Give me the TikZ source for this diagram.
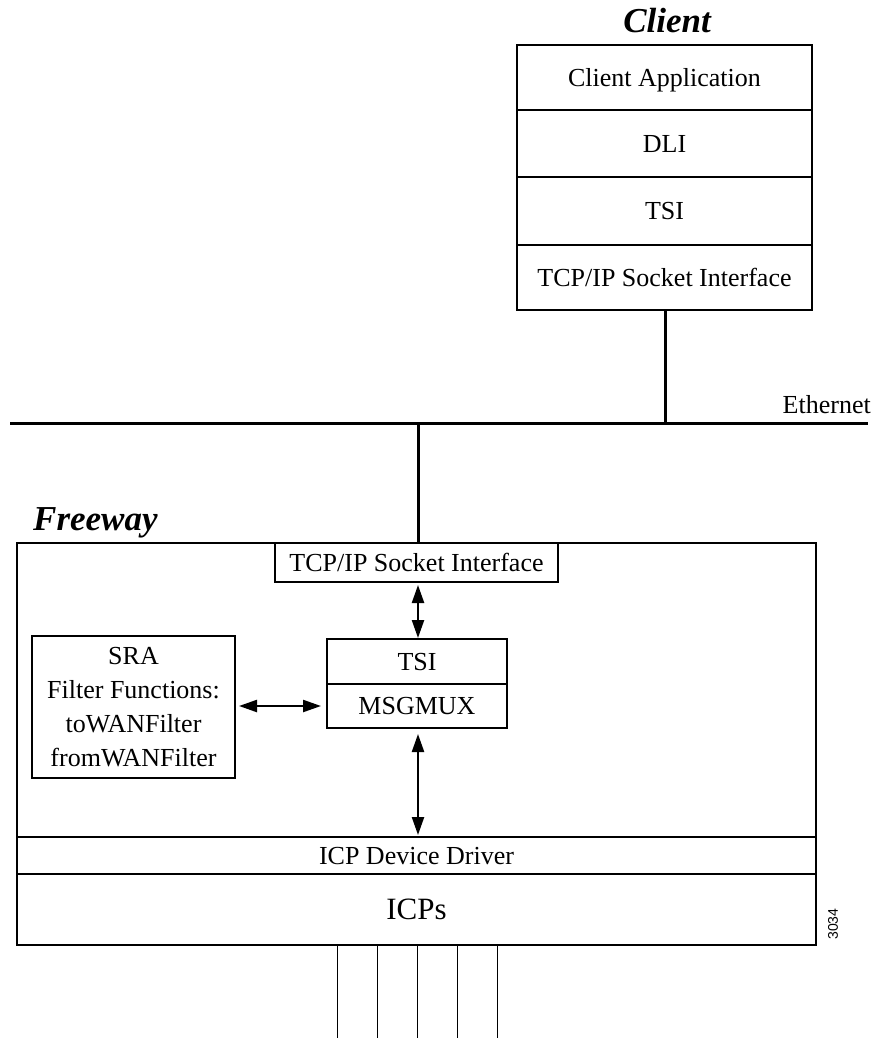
\documentclass[tikz,border=0pt]{standalone}
\usepackage{fontspec}
\setmainfont{Liberation Serif}
\newfontfamily\numfont{Liberation Sans}
\usetikzlibrary{arrows.meta}
\begin{document}
\begin{tikzpicture}[x=1pt,y=-1pt,
  box/.style={draw, line width=1.4pt, inner sep=0pt, outer sep=0pt, font=\fontsize{26}{30}\selectfont},
  row/.style={box, text height=17.2pt, text depth=0pt},
  wire/.style={line width=3pt},
  link/.style={line width=2.3pt, {Triangle[length=18pt,width=12pt]}-{Triangle[length=18pt,width=12pt]}},
  title/.style={font=\fontsize{35}{40}\selectfont\bfseries\itshape, inner sep=0pt}
]
\useasboundingbox (0,0) rectangle (876,1038);

% Client stack
\node[title, anchor=base] (ctitle) at (667,33) {Client};
\node[row, minimum width=295pt, minimum height=65pt] (capp) at (664.5,77.5) {Client Application};
\node[row, minimum width=295pt, minimum height=67pt] (cdli) at (664.5,143.5) {DLI};
\node[row, minimum width=295pt, minimum height=68pt] (ctsi) at (664.5,211) {TSI};
\node[row, minimum width=295pt, minimum height=65pt] (ctcp) at (664.5,277.5) {TCP/IP Socket Interface};

% Ethernet
\coordinate (eL) at (10,423);
\coordinate (eR) at (868,423);
\coordinate (j1) at (665,423);
\coordinate (j2) at (418,423);
\draw[wire] (eL) -- (eR);
\node[font=\fontsize{26}{30}\selectfont, anchor=base east, inner sep=0pt] (eth) at (871,413) {Ethernet};
\draw[wire] (ctcp.south -| j1) -- (j1);

% Freeway
\node[title, anchor=base west] (ftitle) at (33,530) {Freeway};
\node[box, minimum width=799pt, minimum height=402pt] (freeway) at (416.5,744) {};
\node[row, minimum width=283pt, minimum height=39pt, fill=white] (ftcp) at (416.5,562.5) {TCP/IP Socket Interface};
\draw[wire] (j2) -- (j2 |- ftcp.north);

\node[row, minimum width=180pt, minimum height=45pt] (tsi) at (417,661.5) {TSI};
\node[row, minimum width=180pt, minimum height=44pt] (msg) at (417,706) {MSGMUX};

\node[box, minimum width=203pt, minimum height=142pt, align=center, font=\fontsize{26}{34}\selectfont] (sra) at (133.5,707)
  {SRA\\Filter Functions:\\toWANFilter\\fromWANFilter};

\node[row, minimum width=799pt, minimum height=37pt] (driver) at (416.5,855.5) {ICP Device Driver};
\node[row, minimum width=799pt, minimum height=71pt, font=\fontsize{31}{36}\selectfont, text height=20.5pt] (icps) at (416.5,909.5) {ICPs};

% arrows
\draw[link, shorten <=3pt, shorten >=1pt] (ftcp.south -| j2) -- (tsi.north -| j2);
\draw[link, shorten <=4pt, shorten >=6pt] (sra.east |- msg.west) -- (msg.west);
\draw[link, shorten <=6pt, shorten >=2pt] (msg.south -| j2) -- (driver.north -| j2);

% lines below ICPs
\foreach \dx in {-79.5,-39.5,0.5,40.5,80.5}
  \draw[line width=1pt] ([xshift=\dx pt]icps.south) -- ++(0,93);

\node[rotate=90, font=\numfont\fontsize{14}{16}\selectfont, inner sep=0pt] (fig) at (833,924) {3034};
\end{tikzpicture}
\end{document}
